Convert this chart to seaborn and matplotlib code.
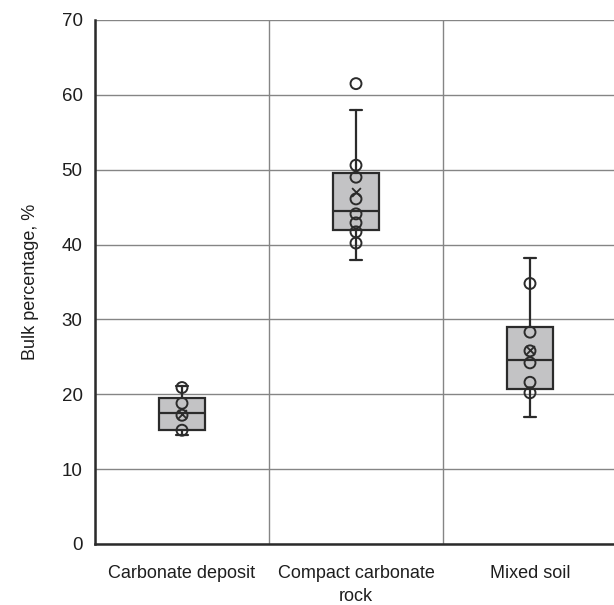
import matplotlib
matplotlib.use("Agg")
import matplotlib.pyplot as plt
import seaborn as sns
import pandas as pd

sns.set_style("white")
plt.rcParams['font.family'] = ['Liberation Sans', 'DejaVu Sans']

# ---- data ----
categories = ["Carbonate deposit", "Compact carbonate rock", "Mixed soil"]
tick_labels = ["Carbonate deposit", "Compact carbonate\nrock", "Mixed soil"]

# box statistics
whisker_low = [14.6, 37.9, 17.0]
q1 = [15.2, 42.0, 20.7]
median = [17.5, 44.5, 24.6]
q3 = [19.5, 49.6, 29.0]
whisker_high = [21.1, 58.0, 38.2]
means = [17.3, 47.0, 25.9]

# individual points
carbonate_pts = [20.9, 18.8, 17.2, 15.2]
compact_pts = [61.5, 50.6, 49.0, 46.1, 44.1, 42.9, 41.7, 40.2]
mixed_pts = [34.8, 28.3, 25.8, 24.2, 21.6, 20.2]

y_ticks = [0, 10, 20, 30, 40, 50, 60, 70]

# ---- figure ----
fig = plt.figure(figsize=(6.14, 6.05), dpi=100)
ax = fig.add_axes([95 / 614, 1 - 544 / 605, 522 / 614, 524 / 605])

dark = "#2b2b2b"
grid_c = "#858585"
txt = "#1e1e1e"
fs = 13

stats = []
for i, c in enumerate(categories):
    stats.append(dict(label=c, whislo=whisker_low[i], q1=q1[i], med=median[i],
                      q3=q3[i], whishi=whisker_high[i], mean=means[i], fliers=[]))

ax.bxp(stats, positions=range(len(categories)), widths=0.265, capwidths=0.07,
       patch_artist=True, showfliers=False, showmeans=False,
       boxprops=dict(facecolor="#c3c3c5", edgecolor=dark, linewidth=1.6),
       medianprops=dict(color=dark, linewidth=1.6),
       whiskerprops=dict(color=dark, linewidth=1.6),
       capprops=dict(color=dark, linewidth=1.6), zorder=3)

pts = pd.DataFrame({
    "cat": [categories[0]] * len(carbonate_pts) + [categories[1]] * len(compact_pts)
           + [categories[2]] * len(mixed_pts),
    "value": carbonate_pts + compact_pts + mixed_pts,
})
pts["pos"] = pts["cat"].map({c: i for i, c in enumerate(categories)})
mean_df = pd.DataFrame({"pos": range(len(categories)), "value": means})

sns.scatterplot(data=pts, x="pos", y="value", ax=ax, marker="o", s=62,
                color=dark, linewidth=1.4, zorder=5)
ax.collections[-1].set_facecolor("none")
ax.collections[-1].set_edgecolor(dark)
sns.scatterplot(data=mean_df, x="pos", y="value", ax=ax, marker="x", s=40,
                color=dark, linewidth=1.3, zorder=6)

# ---- axes ----
ax.set_xlim(-0.5, 2.5)
ax.set_ylim(0, 70)
ax.set_yticks(y_ticks)
ax.set_yticklabels([str(v) for v in y_ticks], fontsize=fs + 0.5, color=txt)
ax.set_xticks([-0.5, 0.5, 1.5])
ax.set_xticklabels([])
ax.set_xticks(range(len(categories)), minor=True)
ax.set_xticklabels(tick_labels, minor=True, fontsize=fs, color=txt, linespacing=1.45)
ax.tick_params(axis="x", which="minor", length=0, pad=15)
ax.tick_params(axis="x", which="major", direction="out", length=8, width=1.6, color=dark)
ax.tick_params(axis="y", direction="out", length=7, width=1.6, color=dark, pad=2)
ax.set_xlabel("")
ax.set_ylabel("Bulk percentage, %", fontsize=fs, color=txt, labelpad=16)

ax.grid(True, which="major", axis="both", color=grid_c, linewidth=1.0, zorder=0)
ax.set_axisbelow(True)
for s in ["top", "right"]:
    ax.spines[s].set_visible(False)
for s in ["left", "bottom"]:
    ax.spines[s].set_color(dark)
    ax.spines[s].set_linewidth(1.8)

fig.savefig("out.png", dpi=100)
